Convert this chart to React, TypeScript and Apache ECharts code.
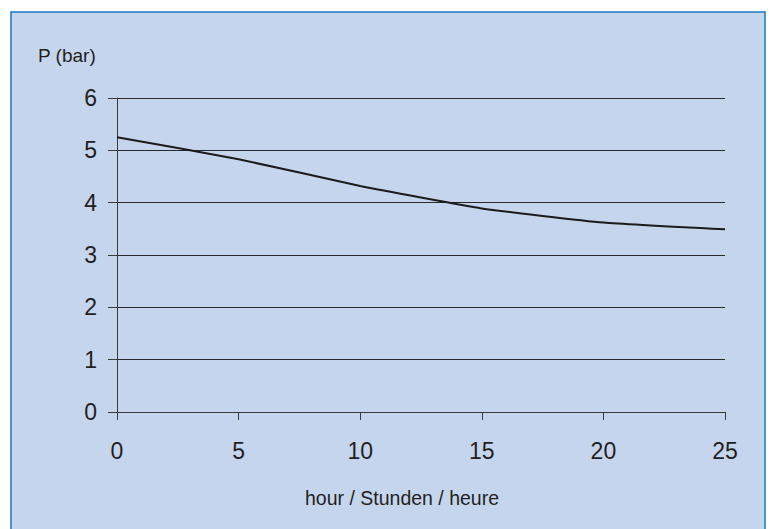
import React, { useEffect, useRef } from "react";
import * as echarts from "echarts";

const hours = [0, 5, 10, 15, 20, 25];
const pressure = [5.25, 4.83, 4.32, 3.89, 3.62, 3.49];
const yTicks = [0, 1, 2, 3, 4, 5, 6];
const xTicks = [0, 5, 10, 15, 20, 25];
const yName = "P (bar)";
const xName = "hour / Stunden / heure";

export default function App() {
  const ref = useRef<HTMLDivElement>(null);
  useEffect(() => {
    document.body.style.margin = "0";
    const chart = echarts.init(ref.current!, null, { renderer: "svg" });
    const font = "Liberation Sans, Arial, Helvetica, sans-serif";
    chart.setOption({
      animation: false,
      backgroundColor: "#ffffff",
      graphic: [
        {
          type: "rect",
          z: -10,
          shape: { x: 11, y: 12, width: 754, height: 600 },
          style: { fill: "#c6d5ee", stroke: "#1a78c2", lineWidth: 1.5 },
        },
        {
          type: "text",
          left: 38,
          top: 46,
          style: { text: yName, fontSize: 19, fontFamily: font, fill: "#231f20" },
        },
        {
          type: "text",
          left: 305,
          top: 488,
          style: { text: xName, fontSize: 19.5, fontFamily: font, fill: "#231f20" },
        },
      ],
      grid: { left: 117, right: 46, top: 98, bottom: 117 },
      xAxis: {
        type: "value",
        min: xTicks[0],
        max: xTicks[xTicks.length - 1],
        interval: 5,
        axisLine: { show: true, lineStyle: { color: "#3a3a3a", width: 1 } },
        axisTick: { show: true, length: 8, lineStyle: { color: "#3a3a3a" } },
        splitLine: { show: false },
        axisLabel: { margin: 27, fontSize: 23, fontFamily: font, color: "#231f20" },
      },
      yAxis: {
        type: "value",
        min: yTicks[0],
        max: yTicks[yTicks.length - 1],
        interval: 1,
        axisLine: { show: true, lineStyle: { color: "#3a3a3a", width: 1 } },
        axisTick: { show: true, length: 9, lineStyle: { color: "#3a3a3a" } },
        splitLine: { show: true, lineStyle: { color: "#2a2a2a", width: 1 } },
        axisLabel: { margin: 20, fontSize: 23, fontFamily: font, color: "#231f20" },
      },
      series: [
        {
          type: "line",
          data: hours.map((h, i) => [h, pressure[i]]),
          showSymbol: false,
          smooth: 0.15,
          lineStyle: { color: "#1c1a1b", width: 2 },
        },
      ],
    });
    return () => chart.dispose();
  }, []);
  return (
    <div
      ref={ref}
      style={{ position: "absolute", left: 0, top: 0, width: 771, height: 529 }}
    />
  );
}
